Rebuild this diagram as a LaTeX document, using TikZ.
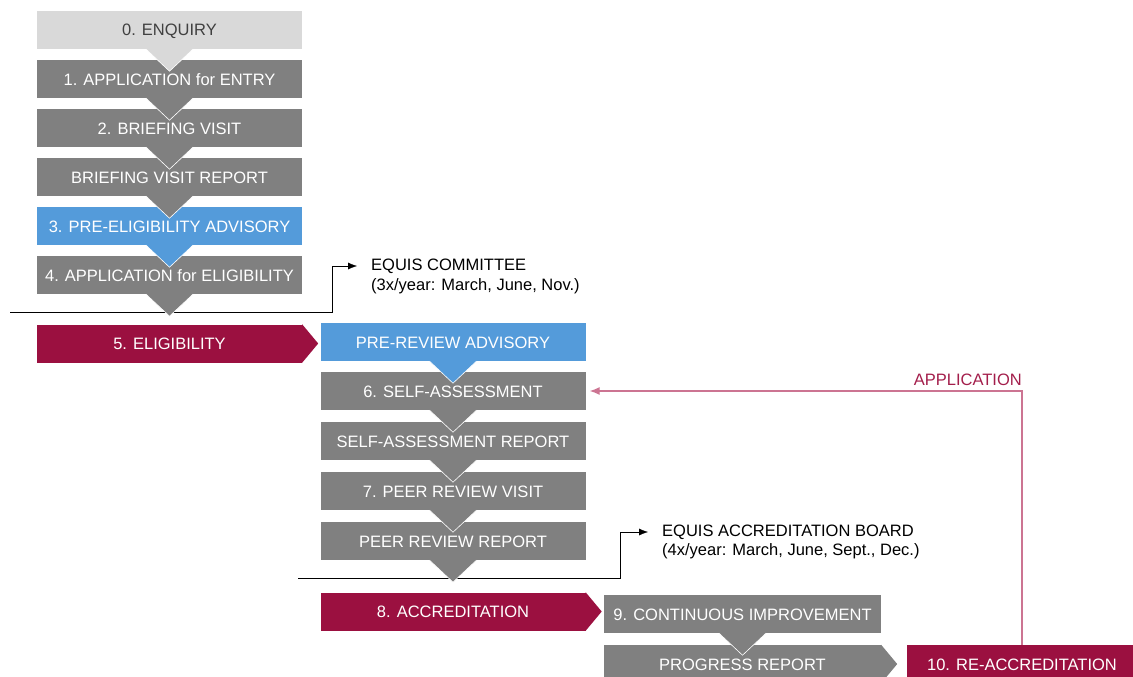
\documentclass[tikz,border=0pt]{standalone}
\usepackage{fontspec}
\setmainfont{Liberation Sans}
\usetikzlibrary{arrows.meta}

\definecolor{enqgrey}{RGB}{217,217,217}
\definecolor{enqtext}{RGB}{64,64,64}
\definecolor{stagegrey}{RGB}{128,128,128}
\definecolor{advblue}{RGB}{84,155,218}
\definecolor{accred}{RGB}{155,16,64}
\definecolor{applink}{RGB}{204,116,146}
\definecolor{apptext}{RGB}{163,30,75}

% down pointing notch under a stage box
\newcommand{\notch}[2]{%
  \fill[#2] ([xshift=-23.5pt]#1.south) -- ([xshift=23.5pt]#1.south) -- ([yshift=-22pt]#1.south) -- cycle;
  \draw[white, line width=.6pt] ([xshift=-23.5pt]#1.south) -- ([yshift=-22pt]#1.south) -- ([xshift=23.5pt]#1.south);}

% arrow point on the right of a stage box
\newcommand{\point}[2]{%
  \fill[#2] (#1.north east) -- ([xshift=16pt]#1.east) -- (#1.south east) -- cycle;}

\begin{document}
\begin{tikzpicture}[x=1pt, y=-1pt,
    stage/.style={minimum width=265pt, minimum height=38pt, inner sep=0pt, text=white,
      text height=12pt, text depth=0pt, font=\fontsize{16.5}{20}\selectfont},
    greybox/.style={stage, fill=stagegrey},
    bluebox/.style={stage, fill=advblue},
    redbox/.style={stage, fill=accred},
    note/.style={anchor=west, inner xsep=14pt, inner ysep=0pt, font=\fontsize{16.5}{20}\selectfont},
    tip/.style={-{Latex[length=9pt,width=7pt]}}]

  \useasboundingbox (0,0) rectangle (1133,677);

  % first column
  \node[stage, fill=enqgrey, text=enqtext] (enq) at (169.5,30) {0. ENQUIRY};
  \node[greybox] (appentry) at (169.5,79) {1. APPLICATION for ENTRY};
  \node[greybox] (brief) at (169.5,128) {2. BRIEFING VISIT};
  \node[greybox] (briefrep) at (169.5,177) {BRIEFING VISIT REPORT};
  \node[bluebox] (preelig) at (169.5,226) {3. PRE-ELIGIBILITY ADVISORY};
  \node[greybox] (appelig) at (169.5,275) {4. APPLICATION for ELIGIBILITY};
  \node[redbox] (elig) at (169.5,343.5) {5. ELIGIBILITY};
  \point{elig}{accred}

  % second column
  \node[bluebox] (prerev) at (453,342) {PRE-REVIEW ADVISORY};
  \node[greybox] (selfass) at (453,391) {6. SELF-ASSESSMENT};
  \node[greybox] (selfrep) at (453,441) {SELF-ASSESSMENT REPORT};
  \node[greybox] (peervis) at (453,491) {7. PEER REVIEW VISIT};
  \node[greybox] (peerrep) at (453,541) {PEER REVIEW REPORT};
  \node[redbox] (accr) at (453,611.5) {8. ACCREDITATION};
  \point{accr}{accred}

  % third column
  \node[greybox, minimum width=277pt] (contimp) at (742.5,614) {9. CONTINUOUS IMPROVEMENT};
  \node[greybox, minimum width=277pt] (progrep) at (742.5,664) {PROGRESS REPORT};
  \point{progrep}{stagegrey}
  \node[redbox, minimum width=230pt] (reaccr) at (1022,664) {10. RE-ACCREDITATION};

  % committee and board
  \coordinate (eligin) at (10,312);
  \coordinate (eligbend) at (332,266);
  \node[note] (committee) at (357,266) {EQUIS COMMITTEE};
  \node[note] (committeedates) at (357,286) {(3x/year: March, June, Nov.)};
  \draw[tip] (eligin) -| (eligbend) -- (committee.west);

  \coordinate (accrin) at (298,578);
  \coordinate (accrbend) at (620,532);
  \node[note] (board) at (648,532) {EQUIS ACCREDITATION BOARD};
  \node[note] (boarddates) at (648,551) {(4x/year: March, June, Sept., Dec.)};
  \draw[tip] (accrin) -| (accrbend) -- (board.west);

  % re-accreditation loop
  \draw[applink, line width=1.2pt, -{Latex[length=10pt,width=8pt]}, shorten >=4pt] (reaccr.north) |- (selfass.east);
  \node[anchor=south east, inner xsep=0pt, inner ysep=5pt, text=apptext,
    font=\fontsize{16.5}{20}\selectfont] (applab) at (reaccr.north |- selfass.east) {APPLICATION};

  % notches
  \foreach \n/\c in {enq/enqgrey, appentry/stagegrey, brief/stagegrey, briefrep/stagegrey,
      preelig/advblue, appelig/stagegrey, prerev/advblue, selfass/stagegrey,
      selfrep/stagegrey, peervis/stagegrey, peerrep/stagegrey, contimp/stagegrey} {
    \notch{\n}{\c}
  }
\end{tikzpicture}
\end{document}
